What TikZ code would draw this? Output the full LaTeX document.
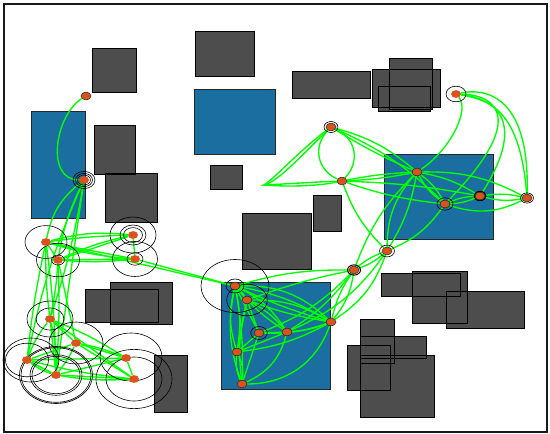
\documentclass[tikz,border=0pt]{standalone}
\usetikzlibrary{shapes.geometric}
\definecolor{obsgray}{HTML}{4D4D4D}
\definecolor{regblue}{HTML}{1B6FA0}
\definecolor{ndorange}{HTML}{DA531C}
\definecolor{edgegreen}{HTML}{00FF00}
\pgfdeclarelayer{bg}
\pgfdeclarelayer{edgelayer}
\pgfdeclarelayer{ringlayer}
\pgfsetlayers{bg,edgelayer,ringlayer,main}
\begin{document}
\begin{tikzpicture}[x=1pt,y=-1pt,
 obsfill/.style={fill=obsgray},
 obsline/.style={draw=black,line width=0.7pt},
 regbox/.style={fill=regblue,draw=black!85,line width=0.7pt},
 edg/.style={draw=edgegreen,line width=1.35pt},
 ring/.style={draw=black,line width=0.6pt},
 nd/.style={ellipse,fill=ndorange,minimum width=10pt,minimum height=7.8pt,inner sep=0pt},
 ndo/.style={nd,draw=black!85,line width=0.5pt}]
\useasboundingbox (0,0) rectangle (550,434);
\begin{pgfonlayer}{bg}
\fill[white] (0,0) rectangle (550,434);
% blue regions
\path[regbox] (31,111) rectangle (85,218);
\path[regbox] (194,89) rectangle (275,154);
\path[regbox] (384,154) rectangle (493,239);
\path[regbox] (221,282) rectangle (330,389);
% gray obstacles: fills
\foreach \a/\b/\c/\d in {92/48/136/92,195/31/254/76,94/125/135/174,105/173/157/222,210/165/242/189,242/213/311/269,313/195/341/231,292/71/370/98,372/69/440/107,389/58/432/109,378/86/430/111,381/273/460/296,412/271/467/323,446/291/524/328,360/319/394/363,360/336/426/358,347/345/390/390,360/355/434/417,85/289/158/322,110/282/172/324,154/355/187/412}
  {\path[obsfill] (\a,\b) rectangle (\c,\d);}
\foreach \a/\b/\c/\d in {92/48/136/92,195/31/254/76,94/125/135/174,105/173/157/222,210/165/242/189,242/213/311/269,313/195/341/231,292/71/370/98,372/69/440/107,389/58/432/109,378/86/430/111,381/273/460/296,412/271/467/323,446/291/524/328,360/319/394/363,360/336/426/358,347/345/390/390,360/355/434/417,85/289/158/322,110/282/172/324,154/355/187/412}
  {\path[obsline] (\a,\b) rectangle (\c,\d);}
\draw[black!90,line width=1.4pt] (4,4) rectangle (547,432);
\end{pgfonlayer}
% nodes
\node[ndo] (p1) at (86,96) {};
\node[nd] (p2) at (84,180) {};
\node[nd] (A) at (46,242) {};
\node[nd] (B) at (58,260) {};
\node[nd] (C) at (133,235) {};
\node[nd] (D) at (135,259) {};
\node[nd] (E) at (50,319) {};
\node[nd] (F) at (76,343) {};
\node[nd] (G) at (27,360) {};
\node[nd] (H) at (56,375) {};
\node[nd] (I) at (126,358) {};
\node[nd] (J) at (134,379) {};
\node[ndo] (K) at (235,286) {};
\node[ndo] (L) at (247,300) {};
\node[ndo] (M) at (259,333) {};
\node[ndo] (N) at (287,332) {};
\node[ndo] (O) at (331,322) {};
\node[ndo] (P) at (237,352) {};
\node[ndo] (Q) at (242,384) {};
\node[ndo] (R) at (354,270) {};
\node[ndo] (S) at (387,251) {};
\node[ndo] (T) at (331,127) {};
\node[ndo] (U) at (342,181) {};
\node[ndo] (V) at (417,172) {};
\node[ndo] (X) at (445,204) {};
\node[ndo] (Y) at (480,196) {};
\node[ndo] (Z) at (527,198) {};
\node[nd] (W) at (456,94) {};
\coordinate (cp) at (264,185);
\begin{pgfonlayer}{ringlayer}
\draw[ring] (p2) ellipse[x radius=11,y radius=8.6] (p2) ellipse[x radius=8.5,y radius=6.6] (p2) ellipse[x radius=6.5,y radius=5];
\draw[ring] (A) ellipse[x radius=21,y radius=16.4];
\draw[ring] (B) ellipse[x radius=21.5,y radius=16.8] (B) ellipse[x radius=6.5,y radius=5];
\draw[ring] (C) ellipse[x radius=23,y radius=18] (C) ellipse[x radius=13,y radius=10] (C) ellipse[x radius=9.5,y radius=7.4];
\draw[ring] (D) ellipse[x radius=22.5,y radius=17.5] (D) ellipse[x radius=8,y radius=6.2];
\draw[ring] (E) ellipse[x radius=23,y radius=18] (E) ellipse[x radius=14,y radius=11];
\draw[ring] (F) ellipse[x radius=27,y radius=21];
\draw[ring] ([xshift=4pt]G.center) ellipse[x radius=28,y radius=22] (G) ellipse[x radius=21.5,y radius=16.8];
\draw[ring] (H) ellipse[x radius=36.5,y radius=28.5] (H) ellipse[x radius=35,y radius=27.3] (H) ellipse[x radius=26,y radius=20.3] (H) ellipse[x radius=24,y radius=18.7];
\draw[ring] ([xshift=5pt,yshift=1pt]I.center) ellipse[x radius=31,y radius=24];
\draw[ring] (J) ellipse[x radius=38,y radius=29.6] (J) ellipse[x radius=28,y radius=22];
\draw[ring] (K) ellipse[x radius=34,y radius=26.5] (K) ellipse[x radius=9,y radius=7];
\draw[ring] (L) ellipse[x radius=20.3,y radius=15.8];
\draw[ring] (M) ellipse[x radius=8.3,y radius=6.5];
\draw[ring,line width=1pt] (R) ellipse[x radius=6.5,y radius=5.1];
\draw[ring] (S) ellipse[x radius=7.5,y radius=5.9];
\draw[ring] (T) ellipse[x radius=7,y radius=5.5];
\draw[ring] (W) ellipse[x radius=10,y radius=7.8];
\draw[ring] (X) ellipse[x radius=8,y radius=6.2];
\draw[ring,line width=0.9pt] (Y) ellipse[x radius=6,y radius=4.7];
\draw[ring] (Z) ellipse[x radius=6.5,y radius=5.1];
\end{pgfonlayer}
\begin{pgfonlayer}{edgelayer}
% top left
\draw[edg] (p1) .. controls (55,115) and (45,180) .. (p2);
\draw[edg] (p2) to[bend right=20] (A);
\draw[edg] (p2) to[bend right=8] (B);
\draw[edg] (p2) to[bend left=4] (E);
\draw[edg] (p2) to (H);
\draw[edg] (p2) to[bend right=6] (G);
% upper left cluster
\draw[edg] (A) to[bend left=10] (C);
\draw[edg] (A) to[bend left=3] (C);
\draw[edg] (A) to (D);
\draw[edg] (A) to[bend right=6] (D);
\draw[edg] (B) to (C);
\draw[edg] (B) to[bend left=6] (C);
\draw[edg] (B) to (D);
\draw[edg] (B) to[bend right=5] (D);
\draw[edg] (C) to (D);
\draw[edg] (A) to (B);
\draw[edg] (A) to (K);
\draw[edg] (D) to (K);
% vertical links
\draw[edg] (A) to[bend right=4] (E);
\draw[edg] (B) to[bend left=4] (E);
\draw[edg] (A) to[bend right=3] (G);
\draw[edg] (B) to[bend left=3] (H);
\draw[edg] (B) to (F);
\draw[edg] (A) to[bend left=3] (H);
% lower left cluster
\draw[edg] (E) to (F);
\draw[edg] (E) to[bend right=8] (G);
\draw[edg] (E) to (H);
\draw[edg] (E) to[bend left=8] (H);
\draw[edg] (E) to[bend left=5] (I);
\draw[edg] (E) to (J);
\draw[edg] (F) to (G);
\draw[edg] (F) to[bend left=6] (H);
\draw[edg] (F) to (I);
\draw[edg] (F) to[bend left=6] (I);
\draw[edg] (F) to (J);
\draw[edg] (G) to (H);
\draw[edg] (G) to[bend right=10] (H);
\draw[edg] (G) to (I);
\draw[edg] (G) to[bend right=4] (J);
\draw[edg] (H) to (I);
\draw[edg] (H) to (J);
\draw[edg] (H) to[bend right=6] (J);
\draw[edg] (I) to (J);
% middle cluster
\draw[edg] (K) to[bend left=10] (L);
\draw[edg] (K) to (M);
\draw[edg] (K) to[bend left=15] (N);
\draw[edg] (K) to[bend right=8] (N);
\draw[edg] (K) to[bend left=10] (O);
\draw[edg] (K) to[bend left=22] (O);
\draw[edg] (K) to[bend right=4] (O);
\draw[edg] (K) to[bend right=15] (P);
\draw[edg] (K) to[bend left=10] (P);
\draw[edg] (Q) to[bend left=15] (K);
\draw[edg] (Q) to[bend right=6] (K);
\draw[edg] (L) to (M);
\draw[edg] (L) to[bend left=10] (N);
\draw[edg] (L) to[bend left=15] (O);
\draw[edg] (L) to[bend right=5] (O);
\draw[edg] (L) to (P);
\draw[edg] (L) to[bend right=10] (Q);
\draw[edg] (M) to (N);
\draw[edg] (M) to[bend right=10] (O);
\draw[edg] (M) to (P);
\draw[edg] (M) to (Q);
\draw[edg] (N) to[bend right=8] (O);
\draw[edg] (N) to (P);
\draw[edg] (Q) to[bend right=25] (N);
\draw[edg] (P) to[bend right=10] (O);
\draw[edg] (Q) to[bend right=35] (O);
\draw[edg] (P) to[bend right=15] (Q);
\draw[edg] (P) to[bend left=15] (Q);
% to R and S
\draw[edg] (K) to[bend left=8] (R);
\draw[edg] (L) to[bend left=4] (R);
\draw[edg] (M) to[bend right=12] (R);
\draw[edg] (N) to[bend right=10] (R);
\draw[edg] (O) to[bend left=10] (R);
\draw[edg] (O) to[bend right=15] (R);
\draw[edg] (O) to[bend right=18] (S);
\draw[edg] (N) to[bend right=15] (S);
\draw[edg] (R) to[bend left=10] (S);
\draw[edg] (R) to[bend right=10] (S);
\draw[edg] (S) to[bend left=20] (V);
\draw[edg] (S) to[bend right=10] (V);
\draw[edg] (R) to[bend left=12] (V);
\draw[edg] (S) to[bend left=12] (U);
\draw[edg] (S) to[bend right=15] (X);
% right cluster
\draw[edg] (T) .. controls (300,150) and (275,178) .. (cp) .. controls (285,184) and (315,182) .. (U);
\draw[edg] (T) .. controls (305,152) and (278,182) .. (cp) .. controls (290,187) and (318,186) .. (U);
\draw[edg] (T) to[bend right=55,looseness=1.15] (U);
\draw[edg] (T) to[bend left=55,looseness=1.15] (U);
\draw[edg] (T) to[bend left=12] (V);
\draw[edg] (T) to[bend right=4] (V);
\draw[edg] (T) to[bend left=10] (X);
\draw[edg] (U) to[bend left=4] (V);
\draw[edg] (U) to[bend right=4] (V);
\draw[edg] (U) to[bend right=6] (X);
\draw[edg] (U) to[bend left=4] (Y);
\draw[edg] (V) to[bend left=12] (X);
\draw[edg] (V) to[bend right=12] (X);
\draw[edg] (V) to[bend left=10] (Y);
\draw[edg] (V) to[bend left=14] (Z);
\draw[edg] (X) to[bend left=10] (Y);
\draw[edg] (X) to[bend right=10] (Y);
\draw[edg] (X) to[bend right=22] (Z);
\draw[edg] (Y) to[bend left=10] (Z);
\draw[edg] (Y) to[bend right=12] (Z);
\draw[edg] (W) .. controls (470,110) and (450,150) .. (V);
\draw[edg] (W) .. controls (490,100) and (520,110) .. (Z);
\draw[edg] (W) .. controls (505,100) and (522,130) .. (Y);
\draw[edg] (W) .. controls (500,95) and (525,122) .. (X);
\draw[edg] (W) .. controls (485,88) and (530,95) .. (Z);
\end{pgfonlayer}
\end{tikzpicture}
\end{document}
